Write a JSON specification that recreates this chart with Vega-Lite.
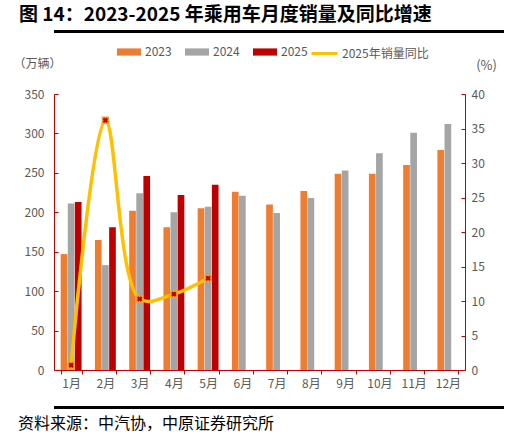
{
  "$schema": "https://vega.github.io/schema/vega-lite/v6.json",
  "padding": {"left": 13, "right": 5, "top": 6, "bottom": 5},
  "background": "white",
  "config": {"view": {"stroke": null}, "font": "Noto Sans CJK SC"},
  "datasets": {
    "sales": [
      {"month": "1月", "year": "2023", "value": 147}, {"month": "1月", "year": "2024", "value": 211}, {"month": "1月", "year": "2025", "value": 213},
      {"month": "2月", "year": "2023", "value": 165}, {"month": "2月", "year": "2024", "value": 133}, {"month": "2月", "year": "2025", "value": 181},
      {"month": "3月", "year": "2023", "value": 202}, {"month": "3月", "year": "2024", "value": 224}, {"month": "3月", "year": "2025", "value": 246},
      {"month": "4月", "year": "2023", "value": 181}, {"month": "4月", "year": "2024", "value": 200}, {"month": "4月", "year": "2025", "value": 222},
      {"month": "5月", "year": "2023", "value": 205}, {"month": "5月", "year": "2024", "value": 207}, {"month": "5月", "year": "2025", "value": 235},
      {"month": "6月", "year": "2023", "value": 226}, {"month": "6月", "year": "2024", "value": 221},
      {"month": "7月", "year": "2023", "value": 210}, {"month": "7月", "year": "2024", "value": 199},
      {"month": "8月", "year": "2023", "value": 227}, {"month": "8月", "year": "2024", "value": 218},
      {"month": "9月", "year": "2023", "value": 249}, {"month": "9月", "year": "2024", "value": 253},
      {"month": "10月", "year": "2023", "value": 249}, {"month": "10月", "year": "2024", "value": 275},
      {"month": "11月", "year": "2023", "value": 260}, {"month": "11月", "year": "2024", "value": 301},
      {"month": "12月", "year": "2023", "value": 279}, {"month": "12月", "year": "2024", "value": 312}
    ],
    "yoy": [
      {"month": "1月", "yoy": 0.7},
      {"month": "2月", "yoy": 36.2},
      {"month": "3月", "yoy": 10.3},
      {"month": "4月", "yoy": 11.0},
      {"month": "5月", "yoy": 13.3}
    ],
    "blank": [{"v": 0}]
  },
  "title": {"text": "资料来源：中汽协，中原证券研究所", "orient": "bottom", "anchor": "start", "frame": "bounds", "fontSize": 16, "fontWeight": "normal", "color": "#000000", "dx": 5, "offset": 7},
  "resolve": {"scale": {"color": "independent", "stroke": "independent"}, "legend": {"color": "independent", "stroke": "independent"}},
  "spacing": 17,
  "vconcat": [
    {
      "title": {"text": "图 14：2023-2025 年乘用车月度销量及同比增速", "anchor": "start", "frame": "bounds", "fontSize": 19, "fontWeight": "bold", "color": "#000000", "dx": 6, "offset": 5},
      "spacing": 6,
      "resolve": {"scale": {"color": "independent", "stroke": "independent"}, "legend": {"color": "independent", "stroke": "independent"}},
      "vconcat": [
        {
          "width": 450,
          "height": 3,
          "view": {"fill": "#000000", "stroke": null},
          "data": {"name": "blank"},
          "mark": {"type": "rule", "color": "#000000", "strokeWidth": 3},
          "encoding": {"y": {"field": "v", "type": "quantitative", "axis": null}}
        },
        {
          "width": 411,
          "height": 276,
          "resolve": {"scale": {"y": "independent"}},
          "layer": [
            {
              "data": {"name": "sales"},
              "mark": {"type": "bar"},
              "encoding": {
                "x": {
                  "field": "month", "type": "ordinal",
                  "sort": ["1月","2月","3月","4月","5月","6月","7月","8月","9月","10月","11月","12月"],
                  "scale": {"paddingInner": 0.39, "paddingOuter": 0.195},
                  "axis": {"title": null, "labelAngle": 0, "domainColor": "#C00000", "tickColor": "#C00000", "tickSize": 4, "tickBand": "extent", "labelColor": "#595959", "labelFontSize": 12, "labelPadding": 4}
                },
                "xOffset": {"field": "year", "type": "nominal", "scale": {"domain": ["2023", "2024", "2025"], "paddingInner": 0.06}},
                "y": {
                  "field": "value", "type": "quantitative",
                  "scale": {"domain": [0, 350]},
                  "axis": {"title": "（万辆）", "titleAngle": 0, "titleAlign": "left", "titleBaseline": "middle", "titleX": -41, "titleY": -31, "titleFontWeight": "normal", "titleColor": "#595959", "titleFontSize": 12,
                    "values": [0, 50, 100, 150, 200, 250, 300, 350], "grid": false, "domainColor": "#C00000", "tickColor": "#C00000", "tickSize": -4, "labelColor": "#595959", "labelFontSize": 12, "labelPadding": 14}
                },
                "color": {
                  "field": "year", "type": "nominal",
                  "scale": {"domain": ["2023", "2024", "2025"], "range": ["#ED7D31", "#A5A5A5", "#C00000"]},
                  "legend": {"orient": "none", "legendX": 63, "legendY": -54, "direction": "horizontal", "title": null, "symbolType": "M-1,-0.3L1,-0.3L1,0.3L-1,0.3Z", "symbolSize": 576, "symbolStrokeWidth": 0, "labelFontSize": 12, "labelColor": "#595959", "columnPadding": 13, "labelOffset": 4}
                }
              }
            },
            {
              "data": {"name": "yoy"},
              "encoding": {
                "x": {"field": "month", "type": "ordinal", "sort": ["1月","2月","3月","4月","5月","6月","7月","8月","9月","10月","11月","12月"], "bandPosition": 0.5},
                "y": {
                  "field": "yoy", "type": "quantitative",
                  "scale": {"domain": [0, 40]},
                  "axis": {"orient": "right", "title": "(%)", "titleAngle": 0, "titleAlign": "center", "titleBaseline": "middle", "titleX": 21, "titleY": -29, "titleFontWeight": "normal", "titleColor": "#595959", "titleFontSize": 13,
                    "values": [0, 5, 10, 15, 20, 25, 30, 35, 40], "grid": false, "domainColor": "#C00000", "tickColor": "#C00000", "tickSize": -4, "labelColor": "#595959", "labelFontSize": 12, "labelPadding": 10}
                }
              },
              "layer": [
                {
                  "mark": {"type": "line", "interpolate": "catmull-rom", "strokeWidth": 3.5},
                  "encoding": {
                    "stroke": {"datum": "2025年销量同比", "scale": {"range": ["#FFC000"]},
                      "legend": {"orient": "none", "legendX": 256, "legendY": -55, "title": null, "symbolType": "stroke", "symbolSize": 676, "symbolStrokeWidth": 3, "labelFontSize": 12, "labelColor": "#595959", "labelOffset": 3}}
                  }
                },
                {
                  "mark": {"type": "point", "shape": "square", "filled": true, "size": 55, "color": "#F5A21B", "opacity": 1}
                },
                {
                  "mark": {"type": "point", "shape": "cross", "angle": 45, "filled": true, "size": 30, "color": "#C00000", "opacity": 1}
                }
              ]
            }
          ]
        }
      ]
    },
    {
      "width": 450,
      "height": 3,
      "view": {"fill": "#000000", "stroke": null},
      "data": {"name": "blank"},
      "mark": {"type": "rule", "color": "#000000", "strokeWidth": 3},
      "encoding": {"y": {"field": "v", "type": "quantitative", "axis": null}}
    }
  ]
}
